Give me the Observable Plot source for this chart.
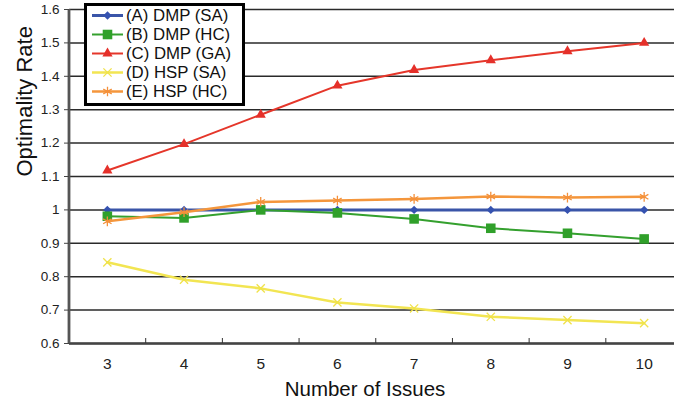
<!DOCTYPE html>
<html>
<head>
<meta charset="utf-8">
<script src="https://cdn.jsdelivr.net/npm/d3@7"></script>
<script src="https://cdn.jsdelivr.net/npm/@observablehq/plot@0.6"></script>
<style>
  html, body { margin: 0; padding: 0; background: #fff; }
  #wrap { position: relative; width: 674px; height: 406px; overflow: hidden; font-family: "Liberation Sans", Arial, sans-serif; }
  #legend { position: absolute; left: 84px; top: 3px; width: 161px; box-sizing: border-box; border: 3px solid #000; background: #fff; padding: 0 0 2px 0; }
  .row { height: 19px; display: flex; align-items: center; font-size: 16.8px; color: #111; white-space: nowrap; }
  .row svg { margin-left: 5px; margin-right: 3px; flex: none; }
</style>
</head>
<body>
<div id="wrap"></div>
<script>
// ---- data ----
const issues = [3, 4, 5, 6, 7, 8, 9, 10];
const seriesNames = ["(A) DMP (SA)", "(B) DMP (HC)", "(C) DMP (GA)", "(D) HSP (SA)", "(E) HSP (HC)"];
const dmpSA = [1.000, 1.000, 1.000, 1.000, 1.000, 1.000, 1.000, 1.000];
const dmpHC = [0.981, 0.976, 1.000, 0.991, 0.973, 0.945, 0.930, 0.913];
const dmpGA = [1.118, 1.197, 1.285, 1.372, 1.419, 1.448, 1.475, 1.500];
const hspSA = [0.843, 0.791, 0.765, 0.723, 0.705, 0.680, 0.670, 0.661];
const hspHC = [0.966, 0.993, 1.024, 1.028, 1.033, 1.040, 1.037, 1.039];
const yTicks = [0.6, 0.7, 0.8, 0.9, 1.0, 1.1, 1.2, 1.3, 1.4, 1.5, 1.6];
const xLabel = "Number of Issues";
const yLabel = "Optimality Rate";

// ---- styles ----
const styles = [
  {line: "#3A55A8", mark: "#3552B0", width: 3,   symbol: "diamond2", r: 3.8, filled: true},
  {line: "#34A02E", mark: "#30A02A", width: 2,   symbol: "square",   r: 5.4, filled: true},
  {line: "#E5362A", mark: "#E5302A", width: 2,   symbol: "triangle", r: 3.8, filled: true},
  {line: "#F2E552", mark: "#F0E24A", width: 2.5, symbol: "times",    r: 3.8, filled: false},
  {line: "#F4963C", mark: "#F4903A", width: 2.5, symbol: "asterisk", r: 4.6, filled: false}
];
const values = [dmpSA, dmpHC, dmpGA, hspSA, hspHC];
const data = values.map((vals, s) => issues.map((x, i) => ({x, y: vals[i], s})));
const between = issues.slice(0, -1).map(d => d + 0.5);

const marks = [
  Plot.ruleY(yTicks, {stroke: "#2a2a2a", strokeWidth: 1.5}),
  Plot.ruleY([0.6], {stroke: "#444", strokeWidth: 2.5}),
  Plot.ruleX([2.5], {stroke: "#555", strokeWidth: 2.8}),
  Plot.axisY(yTicks, {label: null, tickSize: 5, tickPadding: 5, tickFormat: d3.format(""), fontSize: 13.5, fill: "#222", stroke: "#444", fontFamily: "Liberation Sans, Arial, sans-serif"}),
  Plot.axisX(between, {label: null, tickSize: 5, dy: -5, text: null, stroke: "#333"}),
  Plot.axisX(issues, {label: null, tickSize: 0, tickPadding: 14, fontSize: 15.5, fill: "#222", fontFamily: "Liberation Sans Narrow, Liberation Sans, Arial, sans-serif"}),
  Plot.text([xLabel], {frameAnchor: "bottom", dx: -7, dy: 52, lineAnchor: "bottom", fontSize: 20.5, fill: "#111"}),
  Plot.text([yLabel], {frameAnchor: "left", rotate: -90, dx: -45, fontSize: 22, fill: "#111"})
];
data.forEach((d, s) => {
  const st = styles[s];
  marks.push(Plot.line(d, {x: "x", y: "y", stroke: st.line, strokeWidth: st.width}));
  marks.push(Plot.dot(d, st.filled
    ? {x: "x", y: "y", symbol: () => st.symbol, r: st.r, fill: st.mark, stroke: "none"}
    : {x: "x", y: "y", symbol: () => st.symbol, r: st.r, stroke: st.mark, strokeWidth: 1.3, fill: "none"}));
});

const chart = Plot.plot({
  width: 674,
  height: 406,
  marginLeft: 69,
  marginRight: 0,
  marginTop: 9,
  marginBottom: 63,
  style: {fontFamily: "Liberation Sans, Arial, sans-serif", background: "#fff"},
  x: {type: "linear", domain: [2.5, 10.5], range: [68.5, 682], label: null},
  y: {domain: [0.6, 1.6], label: null},
  symbol: {type: "identity"},
  marks
});
const wrap = document.getElementById("wrap");
wrap.appendChild(chart);

// ---- legend ----
const legend = document.createElement("div");
legend.id = "legend";
const symMap = {diamond2: d3.symbolDiamond2, square: d3.symbolSquare, triangle: d3.symbolTriangle, times: d3.symbolTimes, asterisk: d3.symbolAsterisk};
seriesNames.forEach((name, s) => {
  const st = styles[s];
  const row = document.createElement("div");
  row.className = "row";
  const svg = d3.create("svg").attr("width", 31).attr("height", 19);
  svg.append("line").attr("x1", 0).attr("x2", 31).attr("y1", 9.5).attr("y2", 9.5)
    .attr("stroke", st.line).attr("stroke-width", st.width);
  const path = d3.symbol(symMap[st.symbol], Math.PI * st.r * st.r)();
  const p = svg.append("path").attr("d", path).attr("transform", "translate(15.5,9.5)");
  if (st.filled) p.attr("fill", st.mark);
  else p.attr("fill", "none").attr("stroke", st.mark).attr("stroke-width", 1.3);
  row.appendChild(svg.node());
  const span = document.createElement("span");
  span.textContent = name;
  row.appendChild(span);
  legend.appendChild(row);
});
wrap.appendChild(legend);
</script>
</body>
</html>
